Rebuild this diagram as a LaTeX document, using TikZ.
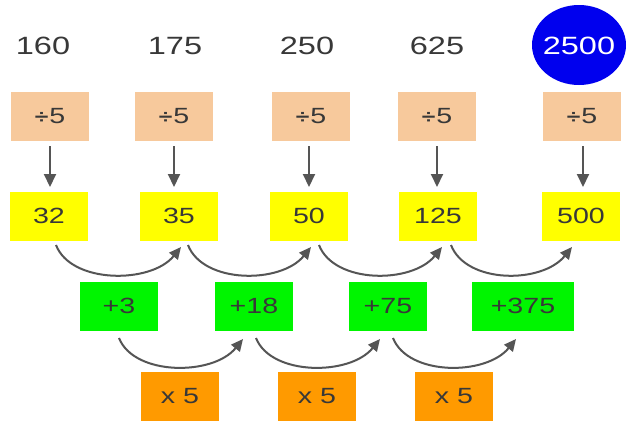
\documentclass[tikz,border=0pt]{standalone}
\usepackage{fontspec}
\setmainfont[FakeStretch=1.3]{Liberation Sans}
\usetikzlibrary{arrows.meta}
\definecolor{peach}{HTML}{F7C99C}
\definecolor{yel}{HTML}{FFFF00}
\definecolor{grn}{HTML}{00F500}
\definecolor{org}{HTML}{FF9A00}
\definecolor{txt}{HTML}{383838}
\definecolor{arr}{HTML}{555555}
\definecolor{blu}{HTML}{0000EE}
\begin{document}
\begin{tikzpicture}[x=1pt,y=-1pt,
  box/.style={minimum width=78pt,minimum height=49pt,inner sep=0pt,text=txt,font=\fontsize{22}{22}\selectfont},
  topnum/.style={text=txt,font=\fontsize{25}{25}\selectfont,inner sep=0pt},
  darr/.style={draw=arr,line width=2pt,-{Triangle[length=13pt,width=12pt]}},
  carr/.style={draw=arr,line width=2pt,-{Triangle[length=12pt,width=11pt]}}]
\useasboundingbox (0,0) rectangle (627,424);
\fill[white] (0,0) rectangle (627,424);
% top numbers
\node[topnum] (t1) at (43,46) {160};
\node[topnum] (t2) at (175,46) {175};
\node[topnum] (t3) at (307,46) {250};
\node[topnum] (t4) at (437,46) {625};
\fill[blu] (579,45) ellipse (47 and 40);
\node[topnum,text=white] (t5) at (579,46) {2500};
% divide boxes
\foreach \n/\x in {1/50,2/174,3/311,4/437,5/582}{
  \node[box,fill=peach] (d\n) at (\x,116) {{\bfseries\fontsize{19}{19}\selectfont ÷}\kern1pt 5};
}
% yellow boxes
\foreach \n/\x/\t in {1/49/32,2/179/35,3/309/50,4/438/125,5/581/500}{
  \node[box,fill=yel] (y\n) at (\x,216) {\t};
}
% green boxes
\node[box,fill=grn] (g1) at (119,306) {+3};
\node[box,fill=grn] (g2) at (254,306) {+18};
\node[box,fill=grn] (g3) at (388,306) {+75};
\node[box,fill=grn,minimum width=102pt] (g4) at (523,306) {+375};
% orange boxes
\node[box,fill=org] (o1) at (180,396) {x 5};
\node[box,fill=org] (o2) at (317,396) {x 5};
\node[box,fill=org] (o3) at (454,396) {x 5};
% down arrows
\foreach \n/\x in {1/50,2/174,3/309,4/437,5/583}{
  \coordinate (ds\n) at (\x,146);
  \coordinate (de\n) at (\x,187);
  \draw[darr] (ds\n) -- (de\n);
}
% curved arrows between yellow boxes
\foreach \a/\xs/\xe in {1/56/181,2/188/311,3/319/442,4/451/572}{
  \coordinate (cs\a) at (\xs,245);
  \coordinate (ce\a) at (\xe,247);
  \draw[carr] (cs\a) .. controls (\xs+15,284) and (\xe-30,284) .. (ce\a);
}
% curved arrows between green boxes
\foreach \a/\xs/\xe in {1/119/243,2/256/380,3/393/516}{
  \coordinate (gs\a) at (\xs,338);
  \coordinate (ge\a) at (\xe,339);
  \draw[carr] (gs\a) .. controls (\xs+15,376) and (\xe-30,376) .. (ge\a);
}
\end{tikzpicture}
\end{document}
